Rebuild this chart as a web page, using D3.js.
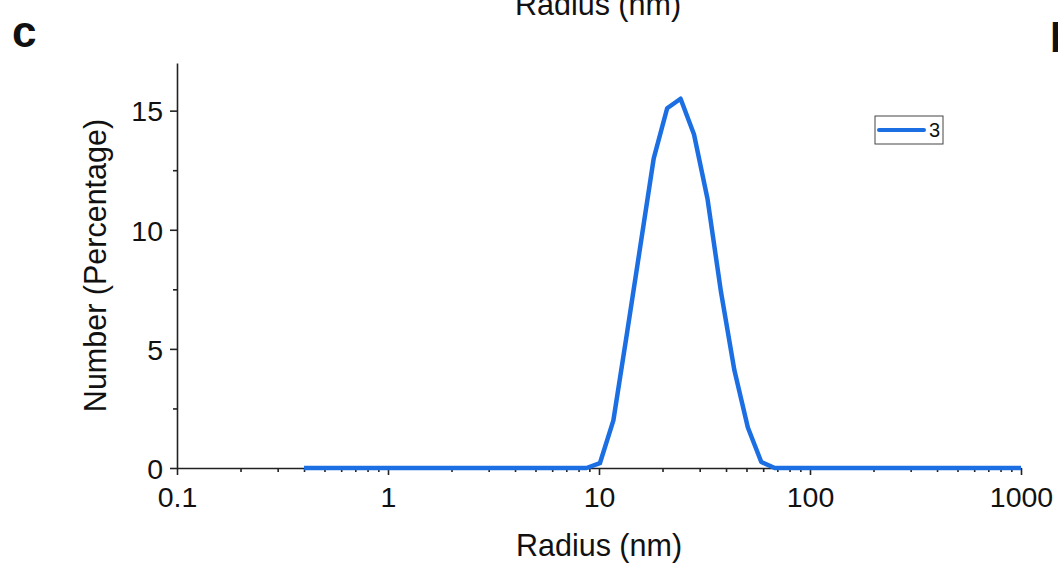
<!DOCTYPE html>
<html>
<head>
<meta charset="utf-8">
<script src="https://cdn.jsdelivr.net/npm/d3@7/dist/d3.min.js"></script>
<style>
  body { margin: 0; background: #fff; }
  svg { display: block; }
  text { font-family: "Liberation Sans", Arial, sans-serif; fill: #111; }
</style>
</head>
<body>
<svg id="chart" width="1058" height="563"></svg>
<script>
// size bins (radius, nm)
var radius = [0.4, 0.4632, 0.5365, 0.6213, 0.7195, 0.8332, 0.9649, 1.117, 1.294, 1.499,
              1.736, 2.010, 2.328, 2.696, 3.122, 3.615, 4.187, 4.849, 5.615, 6.503,
              7.531, 8.721, 10.10, 11.70, 13.54, 15.69, 18.17, 21.04, 24.36, 28.21,
              32.67, 37.84, 43.82, 50.75, 58.77, 68.06, 78.82, 91.28, 105.7, 122.4,
              141.8, 164.2, 190.1, 220.2, 255.0, 295.3, 342.0, 396.1, 458.7, 531.2,
              615.1, 712.4, 825.0, 955.4, 1106];
// number (%) for sample 3
var number3 = [0, 0, 0, 0, 0, 0, 0, 0, 0, 0,
               0, 0, 0, 0, 0, 0, 0, 0, 0, 0,
               0, 0, 0.2, 2.0, 5.6, 9.3, 13.0, 15.1, 15.5, 14.0,
               11.3, 7.4, 4.1, 1.7, 0.25, 0, 0, 0, 0, 0,
               0, 0, 0, 0, 0, 0, 0, 0, 0, 0,
               0, 0, 0, 0, 0];
var xTicks = [0.1, 1, 10, 100, 1000];
var yTicks = [0, 5, 10, 15];
var seriesName = "3";

const lineColor = "#1b6fe3",
    axisColor = "#222";

function drawChart() {
    var svg = d3.select("#chart");
    svg.selectAll("*").remove();

    var margin = {top: 63, left: 177, right: 37, bottom: 95},
        width = 1058 - margin.left - margin.right,
        height = 563 - margin.top - margin.bottom;

    var xScale = d3.scaleLog().domain([0.1, 1000]).range([0, width]),
        yScale = d3.scaleLinear().domain([0, 17]).range([height, 0]);

    var g = svg.append("g")
        .attr("transform", "translate(" + margin.left + "," + margin.top + ")");

    svg.append("defs").append("clipPath").attr("id", "plot-clip")
        .append("rect").attr("x", 0).attr("y", -10).attr("width", width).attr("height", height + 20);

    // minor ticks
    var minorX = [];
    for (var dec = 0.1; dec < 1000; dec *= 10) {
        for (var m = 2; m <= 9; m++) minorX.push(dec * m);
    }
    g.append("g")
        .attr("transform", "translate(0," + height + ")")
        .call(d3.axisBottom(xScale).tickValues(minorX).tickSize(4).tickFormat(""))
        .call(function(a) { a.select(".domain").remove(); });

    g.append("g")
        .call(d3.axisLeft(yScale).tickValues([2.5, 7.5, 12.5]).tickSize(4).tickFormat(""))
        .call(function(a) { a.select(".domain").remove(); });

    var xAxis = g.append("g")
        .attr("transform", "translate(0," + height + ")")
        .call(d3.axisBottom(xScale).tickValues(xTicks).tickSize(7).tickSizeOuter(0)
            .tickFormat(function(d) { return String(d); }));
    xAxis.selectAll("text")
        .attr("font-size", "28.5px")
        .attr("dy", 0).attr("y", 39);

    var yAxis = g.append("g")
        .call(d3.axisLeft(yScale).tickValues(yTicks).tickSize(7).tickSizeOuter(0));
    yAxis.selectAll("text")
        .attr("font-size", "28.5px")
        .attr("x", -14).attr("dy", "0.36em");

    g.selectAll(".domain, .tick line")
        .attr("stroke", axisColor)
        .attr("stroke-width", 1.6);
    g.selectAll(".tick text").attr("fill", "#111").attr("font-family", "Liberation Sans, Arial, sans-serif");

    // series line
    var line = d3.line()
        .x(function(d, i) { return xScale(radius[i]); })
        .y(function(d) { return yScale(d); });

    g.append("path")
        .datum(number3)
        .attr("clip-path", "url(#plot-clip)")
        .attr("fill", "none")
        .attr("stroke", lineColor)
        .attr("stroke-width", 4.5)
        .attr("stroke-linejoin", "round")
        .attr("d", line);

    // axis titles
    svg.append("text")
        .attr("x", margin.left + xScale(10))
        .attr("y", 556)
        .attr("text-anchor", "middle")
        .attr("font-size", "30.5px")
        .text("Radius (nm)");

    svg.append("text")
        .attr("transform", "translate(106," + (margin.top + yScale(8.5)) + ") rotate(-90)")
        .attr("text-anchor", "middle")
        .attr("font-size", "30.5px")
        .text("Number (Percentage)");

    // clipped title from the panel above
    svg.append("text")
        .attr("x", 598)
        .attr("y", 15)
        .attr("text-anchor", "middle")
        .attr("font-size", "30.5px")
        .text("Radius (nm)");

    // panel letters
    svg.append("text")
        .attr("x", 12).attr("y", 47)
        .attr("font-family", "DejaVu Sans, sans-serif")
        .attr("font-weight", "bold")
        .attr("font-size", "44px")
        .text("c");
    svg.append("text")
        .attr("x", 1050).attr("y", 52)
        .attr("font-family", "DejaVu Sans, sans-serif")
        .attr("font-weight", "bold")
        .attr("font-size", "40px")
        .text("b");

    // legend
    var legend = svg.append("g").attr("transform", "translate(875,116)");
    legend.append("rect")
        .attr("width", 68).attr("height", 28)
        .attr("fill", "#fff")
        .attr("stroke", "#444")
        .attr("stroke-width", 1);
    legend.append("line")
        .attr("x1", 4).attr("x2", 49).attr("y1", 14).attr("y2", 14)
        .attr("stroke", lineColor)
        .attr("stroke-width", 4)
        .attr("stroke-linecap", "round");
    legend.append("text")
        .attr("x", 54).attr("y", 21)
        .attr("font-size", "20px")
        .text(seriesName);
}

drawChart();
</script>
</body>
</html>
